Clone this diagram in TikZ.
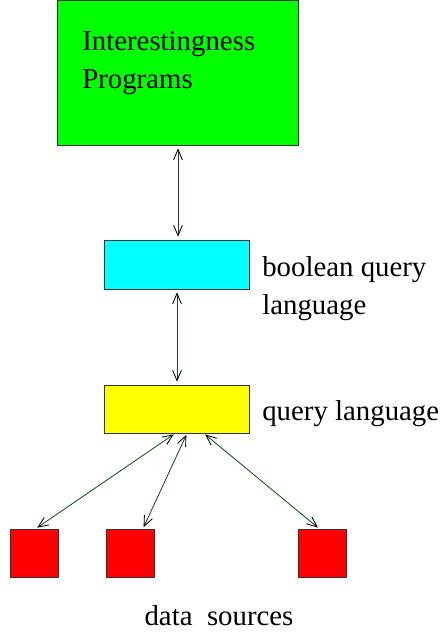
\documentclass[tikz,border=0pt]{standalone}
\usepackage{fontspec}
\setmainfont{Liberation Serif}
\newfontfamily\labelfont{Liberation Serif}
\usetikzlibrary{arrows.meta,positioning}

\definecolor{linkgreen}{RGB}{20,80,20}
\definecolor{boxgreen}{RGB}{0,255,0}
\definecolor{boxcyan}{RGB}{0,255,255}
\definecolor{boxyellow}{RGB}{255,255,0}
\definecolor{boxred}{RGB}{255,0,0}
\tikzset{
    box/.style={draw=black!80, line width=0.7pt, inner sep=0pt},
    source/.style={box, fill=boxred, minimum width=1.2cm, minimum height=1.2cm},
    link/.style={linkgreen, line width=0.6pt, {Straight Barb[length=2.6mm,width=2.2mm,line width=0.6pt,color=black]}-{Straight Barb[length=2.6mm,width=2.2mm,line width=0.6pt,color=black]}},
    label/.style={font=\labelfont\fontsize{20.5}{27}\selectfont, inner sep=0pt, align=left}
}

\begin{document}
\begin{tikzpicture}[x=0.025cm, y=-0.025cm]
    \useasboundingbox (0,0) rectangle (440,633);

    \node[box, fill=boxgreen, minimum width=6cm, minimum height=3.6cm] (prog) at (178,73) {};
    \node[label, anchor=base west] (progtext) at (82,88) {Interestingness\\Programs};

    \node[box, fill=boxcyan, minimum width=3.6cm, minimum height=1.225cm] (bql) at (177,264.5) {};
    \node[label, anchor=base west] (bqltext) at (262,314) {boolean query\\language};

    \node[box, fill=boxyellow, minimum width=3.6cm, minimum height=1.2cm] (ql) at (177,409) {};
    \node[label, anchor=base west] (qltext) at (262,420) {query language};

    \node[source] (src1) at (34,553) {};
    \node[source] (src2) at (130,553) {};
    \node[source] (src3) at (322,553) {};
    \node[label, anchor=base] (srctext) at (219,625) {data\ \ sources};

    \draw[link, shorten <=2pt, shorten >=2pt] (prog.south) -- (prog.south |- bql.north);
    \draw[link, shorten <=2pt, shorten >=2pt] (bql.south) -- (ql.north);

    % sources
    \draw[link, shorten <=1pt, shorten >=1pt] ([xshift=-0.05cm]ql.south) -- ([xshift=0.05cm]src1.north);
    \draw[link, shorten <=1pt, shorten >=1pt] ([xshift=0.25cm]ql.south) -- ([xshift=0.325cm]src2.north);
    \draw[link, shorten <=1pt, shorten >=1pt] ([xshift=0.675cm]ql.south) -- ([xshift=-0.075cm]src3.north);
\end{tikzpicture}
\end{document}
